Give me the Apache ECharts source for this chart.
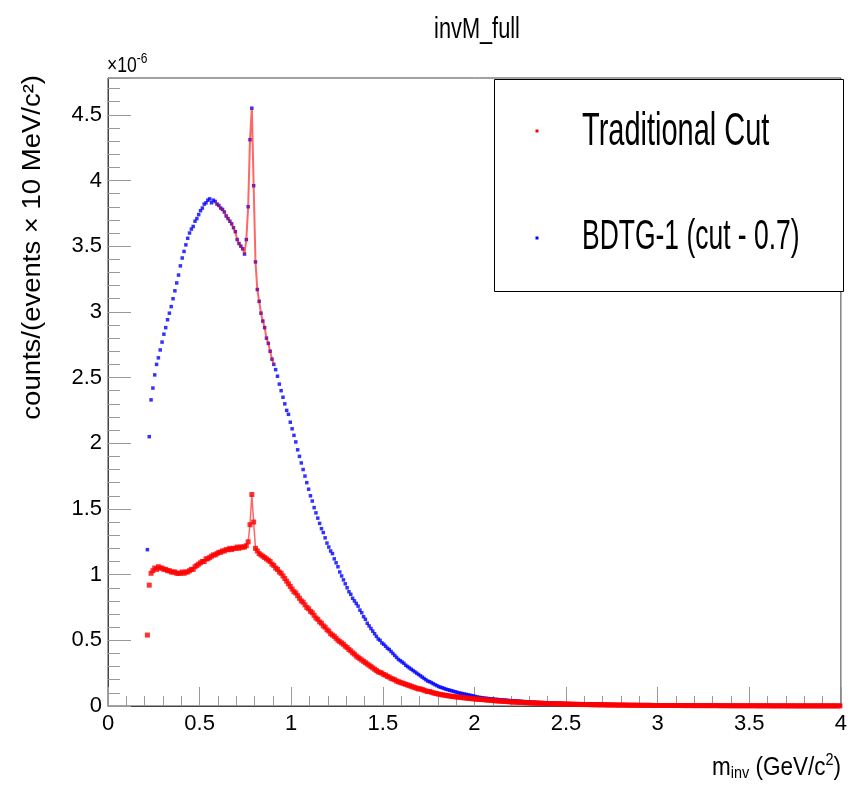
<!DOCTYPE html>
<html>
<head>
<meta charset="utf-8">
<script src="https://cdn.jsdelivr.net/npm/echarts@6/dist/echarts.min.js"></script>
<style>html,body{margin:0;padding:0;background:#fff}#c{width:850px;height:785px}</style>
</head>
<body>
<div id="c"></div>
<script>
// Histogram binning (10 MeV bins), first filled bin centre
const binWidth = 0.01;
const firstCenter = 0.215;

// counts/(events x 10 MeV/c^2), in units of 1e-6
const bdtgCounts = [
  1.19, 2.05, 2.33, 2.42, 2.52, 2.60, 2.65, 2.71, 2.77, 2.83,
  2.88, 2.94, 2.99, 3.04, 3.10, 3.16, 3.22, 3.28, 3.35, 3.41,
  3.46, 3.51, 3.56, 3.60, 3.63, 3.65, 3.69, 3.71, 3.74, 3.77,
  3.79, 3.82, 3.83, 3.85, 3.86, 3.83, 3.85, 3.84, 3.82, 3.81,
  3.79, 3.78, 3.76, 3.73, 3.71, 3.69, 3.67, 3.64, 3.61, 3.55,
  3.52, 3.50, 3.48, 3.44, 3.55, 3.80, 4.31, 4.55, 3.96, 3.38,
  3.17, 3.08, 2.99, 2.93, 2.88, 2.80, 2.76, 2.70, 2.64, 2.60,
  2.56, 2.51, 2.45, 2.40, 2.35, 2.30, 2.25, 2.22, 2.16, 2.11,
  2.06, 2.01, 1.95, 1.90, 1.85, 1.80, 1.75, 1.70, 1.65, 1.60,
  1.56, 1.51, 1.47, 1.43, 1.39, 1.35, 1.32, 1.28, 1.24, 1.21,
  1.18, 1.16, 1.12, 1.09, 1.06, 1.02, 0.99, 0.96, 0.93, 0.90,
  0.87, 0.85, 0.82, 0.80, 0.78, 0.76, 0.73, 0.71, 0.68, 0.66,
  0.63, 0.61, 0.59, 0.57, 0.55, 0.53, 0.51, 0.50, 0.48, 0.47,
  0.455, 0.44, 0.43, 0.415, 0.40, 0.385, 0.37, 0.355, 0.345, 0.335,
  0.325, 0.31, 0.30, 0.29, 0.28, 0.27, 0.26, 0.25, 0.24, 0.23,
  0.22, 0.21, 0.20, 0.19, 0.185, 0.178, 0.17, 0.162, 0.155, 0.148,
  0.143, 0.138, 0.133, 0.128, 0.124, 0.12, 0.116, 0.112, 0.108, 0.104,
  0.10, 0.097, 0.094, 0.091, 0.088, 0.085, 0.082, 0.079, 0.076, 0.072,
  0.069, 0.066, 0.064, 0.062, 0.06, 0.058, 0.057, 0.055, 0.054, 0.052,
  0.051, 0.05, 0.048, 0.047, 0.046, 0.045, 0.044, 0.042, 0.041, 0.04,
  0.039, 0.038, 0.037, 0.036, 0.035, 0.034, 0.033, 0.031, 0.03, 0.029,
  0.028, 0.028, 0.027, 0.026, 0.025, 0.025, 0.024, 0.023, 0.023, 0.022,
  0.022, 0.021, 0.021, 0.02, 0.02, 0.02, 0.019, 0.019, 0.018, 0.018,
  0.018, 0.017, 0.017, 0.017, 0.016, 0.016, 0.016, 0.015, 0.015, 0.016,
  0.015, 0.017, 0.015, 0.016, 0.014, 0.015, 0.016, 0.014, 0.013, 0.012,
  0.012, 0.011, 0.011, 0.011, 0.010, 0.010, 0.010, 0.009, 0.009, 0.009,
  0.009, 0.008, 0.008, 0.008, 0.008, 0.007, 0.007, 0.007, 0.007, 0.007,
  0.006, 0.006, 0.006, 0.006, 0.006, 0.006, 0.005, 0.005, 0.005, 0.005,
  0.005, 0.005, 0.005, 0.004, 0.005, 0.004, 0.004, 0.005, 0.004, 0.004,
  0.004, 0.004, 0.004, 0.004, 0.003, 0.004, 0.004, 0.003, 0.004, 0.003,
  0.003, 0.003, 0.004, 0.003, 0.003, 0.003, 0.003, 0.003, 0.003, 0.003,
  0.003, 0.003, 0.003, 0.002, 0.003, 0.003, 0.002, 0.003, 0.002, 0.003,
  0.002, 0.003, 0.002, 0.002, 0.003, 0.002, 0.002, 0.002, 0.002, 0.002,
  0.002, 0.002, 0.002, 0.002, 0.002, 0.002, 0.002, 0.002, 0.002, 0.002,
  0.002, 0.002, 0.001, 0.002, 0.002, 0.002, 0.001, 0.002, 0.002, 0.001,
  0.002, 0.001, 0.002, 0.001, 0.002, 0.001, 0.001, 0.002, 0.001, 0.001,
  0.001, 0.002, 0.001, 0.001, 0.001, 0.002, 0.001, 0.001, 0.003, 0.001,
  0.001, 0.002, 0.003, 0.001, 0.001, 0.003, 0.001, 0.002, 0.003
];

const tradCounts = [
  0.54, 0.92, 1.01, 1.03, 1.05, 1.04, 1.06, 1.05, 1.05, 1.04,
  1.04, 1.03, 1.03, 1.02, 1.02, 1.02, 1.01, 1.01, 1.01, 1.02,
  1.01, 1.02, 1.02, 1.03, 1.04, 1.04, 1.06, 1.07, 1.08, 1.09,
  1.10, 1.10, 1.12, 1.12, 1.13, 1.14, 1.15, 1.15, 1.16, 1.17,
  1.17, 1.18, 1.18, 1.19, 1.19, 1.20, 1.19, 1.20, 1.20, 1.21,
  1.20, 1.21, 1.21, 1.21, 1.22, 1.25, 1.38, 1.61, 1.40, 1.20,
  1.18, 1.16, 1.15, 1.14, 1.13, 1.12, 1.11, 1.10, 1.08, 1.07,
  1.05, 1.04, 1.02, 1.01, 0.99, 0.97, 0.95, 0.93, 0.91, 0.89,
  0.87, 0.86, 0.84, 0.82, 0.80, 0.79, 0.77, 0.75, 0.74, 0.72,
  0.71, 0.69, 0.67, 0.66, 0.64, 0.63, 0.61, 0.60, 0.58, 0.57,
  0.55, 0.54, 0.53, 0.515, 0.50, 0.49, 0.48, 0.47, 0.455, 0.445,
  0.43, 0.42, 0.405, 0.395, 0.38, 0.37, 0.36, 0.35, 0.34, 0.33,
  0.32, 0.31, 0.30, 0.29, 0.28, 0.27, 0.26, 0.255, 0.25, 0.24,
  0.235, 0.225, 0.22, 0.21, 0.205, 0.20, 0.19, 0.185, 0.18, 0.175,
  0.17, 0.165, 0.16, 0.155, 0.15, 0.145, 0.14, 0.135, 0.13, 0.13,
  0.125, 0.12, 0.115, 0.11, 0.11, 0.105, 0.10, 0.097, 0.094, 0.09,
  0.088, 0.085, 0.083, 0.08, 0.078, 0.076, 0.074, 0.072, 0.07, 0.069,
  0.067, 0.066, 0.064, 0.062, 0.061, 0.059, 0.057, 0.056, 0.055, 0.053,
  0.052, 0.051, 0.05, 0.049, 0.048, 0.046, 0.045, 0.044, 0.043, 0.041,
  0.04, 0.039, 0.038, 0.037, 0.036, 0.035, 0.034, 0.033, 0.032, 0.031,
  0.03, 0.03, 0.029, 0.028, 0.028, 0.027, 0.026, 0.026, 0.025, 0.024,
  0.024, 0.023, 0.022, 0.022, 0.021, 0.021, 0.02, 0.02, 0.019, 0.019,
  0.018, 0.018, 0.017, 0.017, 0.016, 0.016, 0.016, 0.015, 0.015, 0.014,
  0.014, 0.014, 0.013, 0.013, 0.013, 0.012, 0.012, 0.012, 0.011, 0.011,
  0.011, 0.011, 0.010, 0.010, 0.010, 0.010, 0.009, 0.009, 0.009, 0.009,
  0.009, 0.008, 0.008, 0.008, 0.008, 0.008, 0.007, 0.007, 0.007, 0.007,
  0.007, 0.007, 0.006, 0.006, 0.006, 0.006, 0.006, 0.006, 0.005, 0.005,
  0.005, 0.005, 0.005, 0.005, 0.005, 0.005, 0.004, 0.004, 0.004, 0.004,
  0.004, 0.004, 0.004, 0.004, 0.004, 0.004, 0.004, 0.004, 0.004, 0.004,
  0.004, 0.004, 0.003, 0.004, 0.003, 0.003, 0.004, 0.003, 0.003, 0.003,
  0.003, 0.003, 0.003, 0.003, 0.003, 0.003, 0.003, 0.003, 0.003, 0.003,
  0.003, 0.003, 0.003, 0.002, 0.003, 0.002, 0.003, 0.002, 0.002, 0.002,
  0.002, 0.002, 0.002, 0.002, 0.002, 0.002, 0.002, 0.002, 0.002, 0.002,
  0.002, 0.002, 0.002, 0.002, 0.001, 0.002, 0.002, 0.001, 0.002, 0.002,
  0.001, 0.002, 0.001, 0.001, 0.002, 0.001, 0.001, 0.002, 0.001, 0.001,
  0.001, 0.001, 0.002, 0.001, 0.001, 0.001, 0.001, 0.001, 0.001, 0.001,
  0.001, 0.001, 0.001, 0.001, 0.001, 0.001, 0.001, 0.001, 0.001, 0.001,
  0.001, 0.001, 0.001, 0.001, 0.001, 0.001, 0.001, 0.001, 0.001
];

// Mass range (GeV/c^2) where a red connecting curve is drawn over both histograms
const overlayRange = [0.58, 0.91];

const xTicks = { min: 0, max: 4, interval: 0.5 };
const yTicks = { min: 0, max: 4.78, interval: 0.5 };

const centerOf = i => +(firstCenter + i * binWidth).toFixed(3);
const bdtgData = bdtgCounts.map((v, i) => [centerOf(i), v]);
const tradData = tradCounts.map((v, i) => [centerOf(i), v]);
const inOverlay = p => p[0] >= overlayRange[0] && p[0] <= overlayRange[1];

const NARROW = '"Liberation Sans Narrow", "Liberation Sans", Arial, sans-serif';
const SANS = '"Liberation Sans", Arial, sans-serif';

const chart = echarts.init(document.getElementById('c'), null, { renderer: 'canvas' });
chart.setOption({
  animation: false,
  backgroundColor: '#ffffff',
  grid: { left: 108, right: 7, top: 78, bottom: 79, show: true, borderColor: '#444', borderWidth: 1, backgroundColor: 'transparent' },
  xAxis: {
    type: 'value', min: xTicks.min, max: xTicks.max, interval: xTicks.interval,
    axisLine: { show: true, lineStyle: { color: '#444', width: 1 } },
    axisTick: { show: true, inside: true, length: 19, lineStyle: { color: '#999', width: 1 } },
    minorTick: { show: true, splitNumber: 5, length: 10, lineStyle: { color: '#999', width: 1 } },
    splitLine: { show: false },
    axisLabel: { fontFamily: NARROW, fontSize: 22, color: '#000', margin: 7 }
  },
  yAxis: {
    type: 'value', min: yTicks.min, max: yTicks.max, interval: yTicks.interval,
    axisLine: { show: true, lineStyle: { color: '#444', width: 1 } },
    axisTick: { show: true, inside: true, length: 23, lineStyle: { color: '#999', width: 1 } },
    minorTick: { show: true, splitNumber: 5, length: 12, lineStyle: { color: '#999', width: 1 } },
    splitLine: { show: false },
    axisLabel: { fontFamily: NARROW, fontSize: 22, color: '#000', margin: 6, showMaxLabel: false }
  },
  series: [
    {
      name: 'BDTG-1 (cut - 0.7)', type: 'scatter', data: bdtgData,
      symbol: 'rect', symbolSize: 3.5, itemStyle: { color: '#0000ff' }, z: 2
    },
    {
      name: 'Traditional Cut', type: 'scatter', data: tradData,
      symbol: 'rect', symbolSize: 5, itemStyle: { color: '#ff0000' }, z: 3
    },
    {
      name: 'BDTG overlay', type: 'line', data: bdtgData.filter(inOverlay), showSymbol: false,
      lineStyle: { color: 'rgba(255,0,0,0.6)', width: 2 }, z: 4, silent: true
    },
    {
      name: 'Traditional overlay', type: 'line', data: tradData.filter(inOverlay), showSymbol: false,
      lineStyle: { color: 'rgba(255,0,0,0.6)', width: 1.5 }, z: 4, silent: true
    }
  ],
  graphic: [
    { type: 'text', x: 477, y: 30, scaleX: 0.75,
      style: { text: 'invM_full', fontFamily: SANS, fontSize: 29, fill: '#000', align: 'center', verticalAlign: 'middle' } },
    { type: 'text', x: 107, y: 66, scaleX: 0.8,
      style: { text: '×10{s|-6}', fontFamily: SANS, fontSize: 22, fill: '#000', align: 'left', verticalAlign: 'middle',
        rich: { s: { fontSize: 15, fontFamily: SANS, fill: '#000', verticalAlign: 'top', padding: [0, 0, 14, 0] } } } },
    { type: 'text', x: 33, y: 75, rotation: Math.PI / 2, scaleX: 1.1,
      style: { text: 'counts/(events × 10 MeV/c²)', fontFamily: SANS, fontSize: 25, fill: '#000', align: 'right', verticalAlign: 'middle' } },
    { type: 'text', x: 841, y: 768, scaleX: 0.9,
      style: { text: 'm{sb|inv} (GeV/c{sp|2})', fontFamily: SANS, fontSize: 25, fill: '#000', align: 'right', verticalAlign: 'middle',
        rich: {
          sb: { fontSize: 16, fontFamily: SANS, fill: '#000', padding: [12, 0, 0, 0] },
          sp: { fontSize: 16, fontFamily: SANS, fill: '#000', padding: [0, 0, 14, 0] }
        } } },
    { type: 'rect', shape: { x: 494.5, y: 79.5, width: 349, height: 212 }, style: { fill: '#fff', stroke: '#000', lineWidth: 1 }, z: 10 },
    { type: 'rect', shape: { x: 535.5, y: 129.5, width: 3, height: 3 }, style: { fill: '#ff0000' }, z: 11 },
    { type: 'rect', shape: { x: 535.5, y: 236.5, width: 3, height: 3 }, style: { fill: '#0000ff' }, z: 11 },
    { type: 'text', x: 582, y: 132, scaleX: 0.63, z: 11,
      style: { text: 'Traditional Cut', fontFamily: SANS, fontSize: 46, fill: '#000', align: 'left', verticalAlign: 'middle' } },
    { type: 'text', x: 582, y: 237, scaleX: 0.63, z: 11,
      style: { text: 'BDTG-1 (cut - 0.7)', fontFamily: SANS, fontSize: 42, fill: '#000', align: 'left', verticalAlign: 'middle' } }
  ]
});
</script>
</body>
</html>
